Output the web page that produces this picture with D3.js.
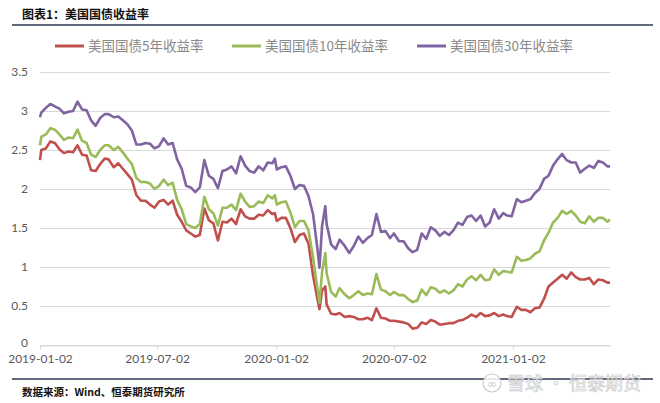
<!DOCTYPE html>
<html><head><meta charset="utf-8">
<script src="https://cdn.jsdelivr.net/npm/d3@7"></script>
<style>body{margin:0;background:#fff}svg{display:block}</style>
</head><body>
<svg id="c" width="660" height="403"></svg>
<script>
const dates = [
"2019-01-02","2019-01-04","2019-01-11","2019-01-18","2019-01-25","2019-02-01","2019-02-08","2019-02-15","2019-02-22","2019-03-01",
"2019-03-08","2019-03-15","2019-03-22","2019-03-29","2019-04-05","2019-04-12","2019-04-18","2019-04-26","2019-05-03","2019-05-10",
"2019-05-17","2019-05-24","2019-05-31","2019-06-07","2019-06-14","2019-06-21","2019-06-28","2019-07-05","2019-07-12","2019-07-19",
"2019-07-26","2019-08-02","2019-08-09","2019-08-16","2019-08-23","2019-08-30","2019-09-06","2019-09-13","2019-09-20","2019-09-27",
"2019-10-04","2019-10-11","2019-10-18","2019-10-25","2019-11-01","2019-11-08","2019-11-15","2019-11-22","2019-11-29","2019-12-06",
"2019-12-13","2019-12-20","2019-12-27","2019-12-31",
"2020-01-03","2020-01-10","2020-01-17","2020-01-24","2020-01-31","2020-02-07","2020-02-14","2020-02-21","2020-02-28","2020-03-06",
"2020-03-09","2020-03-13","2020-03-18","2020-03-20","2020-03-27","2020-04-03","2020-04-09","2020-04-17","2020-04-24","2020-05-01",
"2020-05-08","2020-05-15","2020-05-22","2020-05-29","2020-06-05","2020-06-12","2020-06-19","2020-06-26","2020-07-02","2020-07-10",
"2020-07-17","2020-07-24","2020-07-31","2020-08-07","2020-08-14","2020-08-21","2020-08-28","2020-09-04","2020-09-11","2020-09-18",
"2020-09-25","2020-10-02","2020-10-09","2020-10-16","2020-10-23","2020-10-30","2020-11-06","2020-11-13","2020-11-20","2020-11-27",
"2020-12-04","2020-12-11","2020-12-18","2020-12-24","2020-12-31",
"2021-01-08","2021-01-15","2021-01-22","2021-01-29","2021-02-05","2021-02-12","2021-02-19","2021-02-26","2021-03-05","2021-03-12",
"2021-03-19","2021-03-26","2021-04-02","2021-04-09","2021-04-16","2021-04-23","2021-04-30","2021-05-07","2021-05-14","2021-05-21",
"2021-05-28","2021-06-01"];

const y5 = [
2.37,2.50,2.52,2.61,2.59,2.51,2.46,2.48,2.47,2.56,
2.44,2.43,2.24,2.23,2.32,2.39,2.38,2.28,2.33,2.26,
2.19,2.12,1.92,1.85,1.85,1.80,1.76,1.84,1.86,1.80,
1.85,1.67,1.58,1.47,1.43,1.39,1.41,1.75,1.60,1.56,
1.34,1.58,1.57,1.62,1.55,1.74,1.65,1.62,1.62,1.67,
1.66,1.73,1.68,1.69,
1.59,1.63,1.63,1.50,1.32,1.41,1.43,1.30,0.89,0.58,
0.46,0.70,0.75,0.52,0.40,0.39,0.41,0.36,0.37,0.36,
0.33,0.33,0.35,0.32,0.47,0.35,0.34,0.31,0.31,0.30,
0.29,0.27,0.21,0.22,0.29,0.27,0.32,0.30,0.26,0.27,
0.28,0.28,0.31,0.32,0.35,0.39,0.36,0.41,0.37,0.38,
0.41,0.37,0.39,0.37,0.36,
0.49,0.45,0.45,0.42,0.47,0.48,0.59,0.75,0.80,0.85,
0.90,0.85,0.93,0.87,0.84,0.84,0.86,0.78,0.84,0.83,
0.80,0.80];

const y10 = [
2.56,2.67,2.70,2.78,2.76,2.70,2.63,2.66,2.65,2.76,
2.62,2.59,2.44,2.41,2.50,2.56,2.56,2.50,2.54,2.47,
2.39,2.32,2.14,2.09,2.09,2.07,2.00,2.04,2.12,2.05,
2.08,1.86,1.74,1.55,1.52,1.50,1.55,1.90,1.74,1.69,
1.53,1.76,1.76,1.80,1.73,1.94,1.84,1.77,1.78,1.84,
1.82,1.92,1.88,1.92,
1.80,1.83,1.84,1.70,1.51,1.59,1.59,1.47,1.13,0.71,
0.54,0.94,1.18,0.92,0.68,0.62,0.73,0.65,0.60,0.64,
0.69,0.64,0.66,0.65,0.91,0.71,0.69,0.64,0.68,0.64,
0.64,0.59,0.55,0.57,0.71,0.64,0.74,0.72,0.67,0.70,
0.66,0.70,0.78,0.75,0.84,0.88,0.83,0.90,0.83,0.84,
0.97,0.90,0.95,0.94,0.93,
1.13,1.08,1.09,1.11,1.17,1.20,1.34,1.44,1.57,1.63,
1.72,1.68,1.72,1.66,1.58,1.56,1.65,1.58,1.63,1.63,
1.58,1.61];

const y30 = [
2.92,2.98,3.04,3.09,3.06,3.03,2.97,2.99,3.00,3.12,
3.02,3.01,2.88,2.81,2.91,2.96,2.96,2.92,2.93,2.88,
2.83,2.75,2.57,2.57,2.59,2.58,2.52,2.55,2.65,2.57,
2.59,2.38,2.26,2.04,2.02,1.96,2.02,2.37,2.17,2.13,
2.01,2.23,2.25,2.29,2.20,2.42,2.30,2.23,2.21,2.29,
2.24,2.34,2.33,2.39,
2.25,2.28,2.29,2.17,2.00,2.05,2.04,1.91,1.68,1.22,
0.99,1.53,1.78,1.55,1.29,1.23,1.35,1.27,1.18,1.27,
1.39,1.31,1.37,1.41,1.68,1.45,1.46,1.37,1.43,1.33,
1.33,1.24,1.19,1.22,1.43,1.36,1.51,1.47,1.40,1.45,
1.41,1.47,1.57,1.54,1.64,1.66,1.59,1.66,1.52,1.57,
1.74,1.62,1.69,1.66,1.65,
1.87,1.83,1.85,1.87,1.95,2.00,2.13,2.17,2.30,2.38,
2.45,2.37,2.34,2.34,2.21,2.26,2.30,2.27,2.36,2.34,
2.29,2.29];

const seriesNames = ["美国国债5年收益率","美国国债10年收益率","美国国债30年收益率"];
const seriesColors = ["#c0504d","#9bbb59","#8064a2"];
const yTicks = [0,0.5,1,1.5,2,2.5,3,3.5];
const xTickLabels = ["2019-01-02","2019-07-02","2020-01-02","2020-07-02","2021-01-02"];
const titleText = "图表1：美国国债收益率";
const sourceText = "数据来源：Wind、恒泰期货研究所";

const parse = d3.utcParse("%Y-%m-%d");
const fmt = d3.utcFormat("%Y-%m-%d");
const svg = d3.select("#c");

const x = d3.scaleUtc().domain([parse(dates[0]), parse(dates[dates.length-1])]).range([40, 610]);
const y = d3.scaleLinear().domain([0, 3.5]).range([345, 72]);

// title & frame lines
svg.append("text").attr("x",22).attr("y",19).text(titleText)
  .attr("font-family","'Noto Sans CJK SC'").attr("font-weight","bold").attr("font-size",12).attr("fill","#111");
svg.append("line").attr("x1",12).attr("x2",653).attr("y1",25).attr("y2",25).attr("stroke","#2b3650").attr("stroke-width",1.6);
svg.append("line").attr("x1",12).attr("x2",653).attr("y1",379).attr("y2",379).attr("stroke","#2b3650").attr("stroke-width",1.6);
svg.append("text").attr("x",22).attr("y",396).text(sourceText)
  .attr("font-family","'Noto Sans CJK SC'").attr("font-weight","bold").attr("font-size",10.5).attr("fill","#111");

// gridlines
svg.append("g").selectAll("line").data(yTicks).join("line")
  .attr("x1",40).attr("x2",610).attr("y1",d=>Math.round(y(d))+0.5).attr("y2",d=>Math.round(y(d))+0.5)
  .attr("stroke","#d9d9d9").attr("stroke-width",1);

// y axis labels
const yAxis = d3.axisLeft(y).tickValues(yTicks).tickSize(0).tickPadding(0).tickFormat(d3.format("~g"));
const gy = svg.append("g").attr("transform","translate(28,0)").call(yAxis);
gy.select(".domain").remove();
gy.selectAll("text").attr("font-family","Lato").attr("font-size",12).attr("fill","#595959");
gy.selectAll(".tick").filter(d=>d===0).select("text").attr("dy","0.15em");

// x axis
const xAxis = d3.axisBottom(x).tickValues(xTickLabels.map(parse)).tickFormat(fmt).tickSize(4).tickPadding(4).tickSizeOuter(0);
const gx = svg.append("g").attr("transform","translate(0,345.5)").call(xAxis);
gx.select(".domain").attr("stroke","#d9d9d9");
gx.selectAll(".tick line").attr("stroke","#d9d9d9");
gx.selectAll("text").attr("font-family","Lato").attr("font-size",12).attr("fill","#595959").attr("y",9);

// lines
const allSeries = [y5, y10, y30];
const line = d3.line().x((d,i)=>x(parse(dates[i]))).y(d=>y(d)).curve(d3.curveLinear);
allSeries.forEach((s,k)=>{
  svg.append("path").datum(s).attr("d",line).attr("fill","none")
    .attr("stroke",seriesColors[k]).attr("stroke-width",2.6).attr("stroke-linejoin","round");
});

// legend
const legendX = [55, 232, 417];
seriesNames.forEach((n,k)=>{
  const g = svg.append("g").attr("transform",`translate(${legendX[k]},46)`);
  g.append("line").attr("x1",0).attr("x2",29).attr("y1",0).attr("y2",0).attr("stroke",seriesColors[k]).attr("stroke-width",3);
  g.append("text").attr("x",33).attr("y",5).text(n)
    .attr("font-family","'Noto Sans CJK SC'").attr("font-size",13.5).attr("fill","#8a8a8a");
});

// watermark
const wm = svg.append("g").attr("opacity",0.85);
wm.append("circle").attr("cx",492).attr("cy",383).attr("r",9).attr("fill","#fff").attr("stroke","#c4c4c4").attr("stroke-width",1.2);
wm.append("text").attr("x",492).attr("y",388).attr("text-anchor","middle").text("∞")
  .attr("font-family","DejaVu Sans").attr("font-size",12).attr("fill","#c4c4c4");
wm.append("text").attr("x",507).attr("y",390).text("雪球 · 恒泰期货")
  .attr("font-family","'Noto Sans CJK SC'").attr("font-size",18).attr("fill","#f6f6f6")
  .attr("stroke","#c0c0c0").attr("stroke-width",0.6);
</script>
</body></html>
